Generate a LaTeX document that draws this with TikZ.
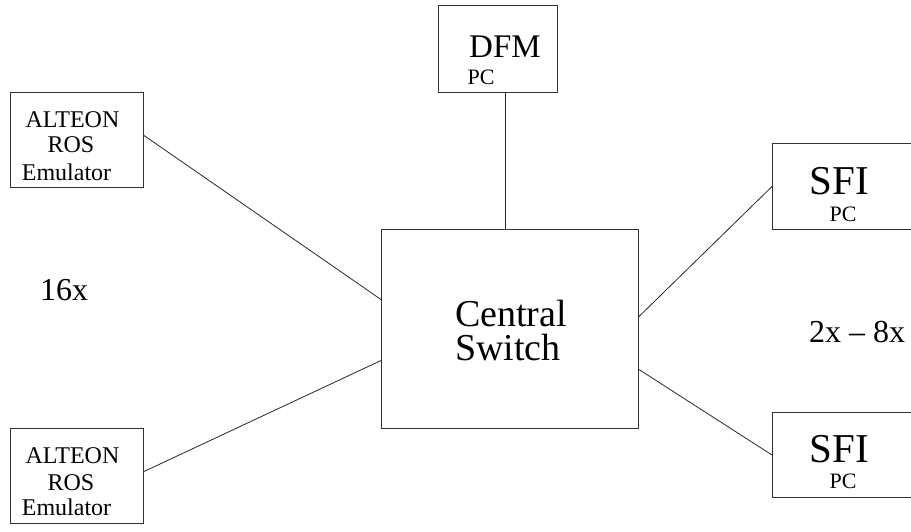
\documentclass[tikz,border=0pt]{standalone}
\usepackage{fontspec}
\setmainfont{Liberation Serif}
\usetikzlibrary{calc}
\begin{document}
\begin{tikzpicture}[x=1pt,y=-1pt,
  box/.style={draw=black!80, line width=1pt, inner sep=0pt, anchor=north west},
  link/.style={draw=black!85, line width=0.8pt},
  txt/.style={inner sep=0pt, anchor=base, font=\fontsize{#1}{#1}\selectfont}]
\useasboundingbox (0,0) rectangle (911,531);
\clip (0,0) rectangle (911,531);

% boxes
\node[box, minimum width=119pt, minimum height=87pt] (dfm) at (438,5) {};
\node[box, minimum width=257pt, minimum height=199pt] (sw) at (381,229) {};
\node[box, minimum width=133pt, minimum height=95pt] (altA) at (10,92) {};
\node[box, minimum width=133pt, minimum height=95pt] (altB) at (10,428) {};
\node[box, minimum width=160pt, minimum height=86pt] (sfiA) at (772,143) {};
\node[box, minimum width=160pt, minimum height=85pt] (sfiB) at (772,412) {};

% links to the central switch
\draw[link] ($(dfm.south)+(7.5,0)$) -- ($(sw.north)+(-4.5,0)$);
\draw[link] ($(altA.east)+(0,-4.5)$) -- ($(sw.west)+(0,-29.5)$);
\draw[link] ($(altB.east)+(0,-4.5)$) -- ($(sw.west)+(0,31.5)$);
\draw[link] ($(sw.east)+(0,-12.5)$) -- (sfiA.west);
\draw[link] ($(sw.east)+(0,40.5)$) -- (sfiB.west);

% labels
\node[txt=33] (dfmT) at (505,57) {DFM};
\node[txt=22] (dfmP) at (481,84) {PC};

\node[inner sep=0pt, anchor=north west, align=left,
      font=\fontsize{38}{34}\selectfont] (swT) at (455,300) {Central\\ Switch};

\node[txt=24] (aA1) at (72.5,127) {ALTEON};
\node[txt=24] (aA2) at (71,152) {ROS};
\node[txt=24] (aA3) at (66.5,180) {Emulator};

\node[txt=24] (aB1) at (72.5,463) {ALTEON};
\node[txt=24] (aB2) at (71,490) {ROS};
\node[txt=24] (aB3) at (66.5,515) {Emulator};

\node[txt=41] (sA1) at (839.5,194) {SFI};
\node[txt=22] (sA2) at (843,221) {PC};
\node[txt=41] (sB1) at (839.5,462) {SFI};
\node[txt=22] (sB2) at (843,488) {PC};

\node[txt=32] (n16) at (64,300) {16x};
\node[txt=32] (n28) at (857,342) {2x -- 8x};
\end{tikzpicture}
\end{document}
